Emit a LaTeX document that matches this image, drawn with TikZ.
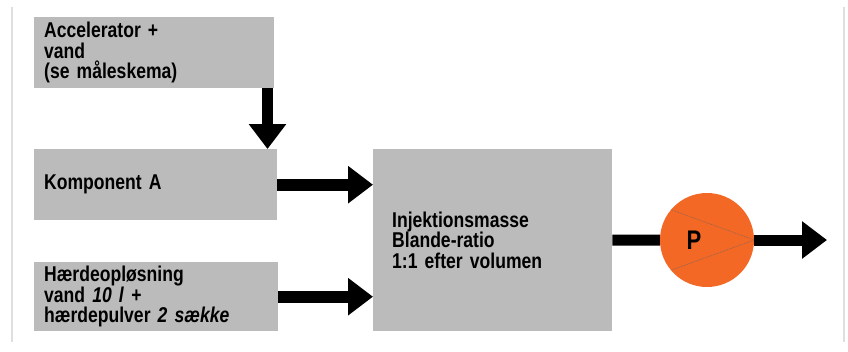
\documentclass[tikz,border=0pt]{standalone}
\usepackage{fontspec}
\setmainfont{Liberation Sans}[FakeStretch=0.82]
\usetikzlibrary{arrows.meta}
\definecolor{boxgrey}{RGB}{187,187,187}
\definecolor{pumporange}{RGB}{242,104,36}
\definecolor{rulegrey}{RGB}{222,222,222}
\begin{document}
\begin{tikzpicture}[x=1bp,y=-1bp,
    box/.style={fill=boxgrey, anchor=north west, align=left, inner xsep=10bp, inner ysep=0pt,
        font=\fontsize{21.5}{20.5}\selectfont\bfseries},
    fat/.style={line width=12bp, -{Triangle[length=25bp,width=36bp]}},
    pipe/.style={line width=11bp}]
    \useasboundingbox (0,0) rectangle (848,351);
    \draw[rulegrey, line width=1.5bp] (12,7) -- (12,342) (844,7) -- (844,342);
    \node[box, text width=220bp, minimum height=71bp] (acc) at (34,17)
        {Accelerator +\\vand\\(se måleskema)};
    \node[box, text width=223bp, minimum height=71bp] (komp) at (34,149) {Komponent A};
    \node[box, text width=224bp, minimum height=69bp] (haerd) at (34,262)
        {Hærdeopløsning\\vand \textit{10 l} +\\hærdepulver \textit{2 sække}};
    \node[box, inner xsep=19bp, text width=201bp, minimum height=182bp] (mix) at (373,149)
        {Injektionsmasse\\Blande-ratio\\1:1 efter volumen};
    \node[circle, fill=pumporange, minimum size=94bp, inner sep=0pt] (pump) at (707,240) {};
    \draw[black!60, densely dotted, line width=0.6bp] (pump.140) -- (pump.east) -- (pump.220);
    \node[font=\fontsize{27}{27}\selectfont\bfseries] (ptxt) at ([xshift=-13bp]pump.center) {P};
    \coordinate (drop) at (267.5,88);
    \coordinate (out) at (827,240);
    \draw[fat, line width=11bp] (drop) -- (drop |- komp.north);
    \draw[fat] (komp.east) -- (komp.east -| mix.west);
    \draw[fat] (haerd.east) -- (haerd.east -| mix.west);
    \draw[pipe] (mix.east) -- (pump.west);
    \draw[fat, line width=11bp] (pump.east) -- (out);
\end{tikzpicture}
\end{document}
